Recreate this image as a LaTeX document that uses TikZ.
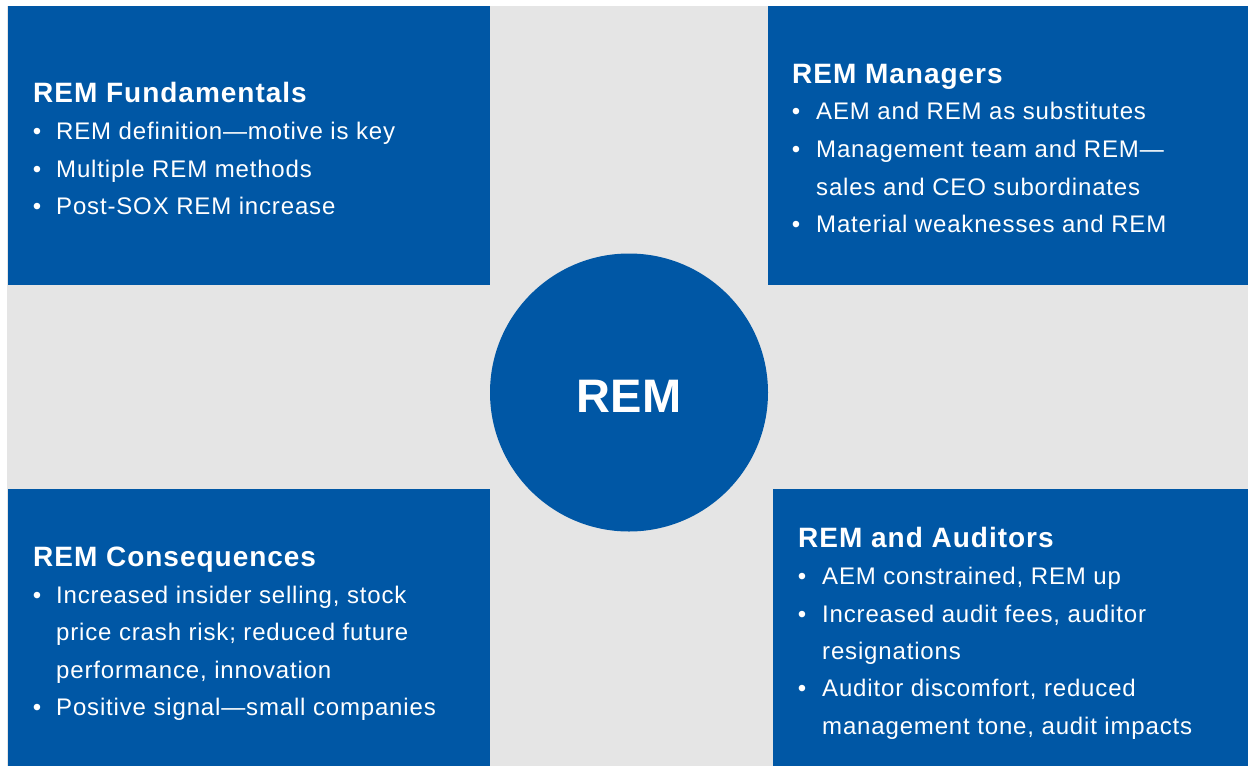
\documentclass[tikz,border=0pt]{standalone}
\usepackage{fontspec}
\setmainfont{Liberation Sans}[LetterSpace=3.5]
\newfontfamily\remfont{Liberation Sans}
\definecolor{remblue}{RGB}{0,87,165}
\definecolor{remgray}{RGB}{229,229,229}
\tikzset{
  panel/.style={fill=remblue, draw=none},
  heading/.style={text=white, font=\bfseries\fontsize{28}{30}\selectfont, anchor=base west, inner sep=0pt},
  item/.style={text=white, font=\fontsize{24}{26}\selectfont, anchor=base west, inner sep=0pt},
  dot/.style={text=white, font=\fontsize{24}{26}\selectfont, anchor=base, inner sep=0pt},
  hub/.style={circle, fill=remblue, minimum size=278pt, inner sep=0pt, text=white, font=\remfont\bfseries\fontsize{47}{50}\selectfont},
}
\begin{document}
\begin{tikzpicture}[x=1pt,y=-1pt]
\useasboundingbox (0,0) rectangle (1248,766);
\fill[white] (0,0) rectangle (1248,766);
\fill[remgray] (7,6) rectangle (1248,766);
% panels
\fill[panel] (8,6) rectangle (490,285);
\fill[panel] (768,6) rectangle (1248,285);
\fill[panel] (8,489) rectangle (490,766);
\fill[panel] (773,489) rectangle (1248,766);
% centre
\node[hub] (rem) at (629,392.5) {\raisebox{-3.5pt}[\height][\depth]{REM}};
% top left
\node[heading] (ft) at (33,102) {REM Fundamentals};
\node[dot] (fb1) at (37,139) {•};
\node[item] (f1) at (56,139) {REM definition—motive is key};
\node[dot] (fb2) at (37,177) {•};
\node[item] (f2) at (56,177) {Multiple REM methods};
\node[dot] (fb3) at (37,214) {•};
\node[item] (f3) at (56,214) {Post-SOX REM increase};
% top right
\node[heading] (mt) at (792,83) {REM Managers};
\node[dot] (mb1) at (796,119.5) {•};
\node[item] (m1) at (816,119.5) {AEM and REM as substitutes};
\node[dot] (mb2) at (796,157) {•};
\node[item] (m2) at (816,157) {Management team and REM—};
\node[item] (m2b) at (816,195) {sales and CEO subordinates};
\node[dot] (mb3) at (796,232) {•};
\node[item] (m3) at (816,232) {Material weaknesses and REM};
% bottom left
\node[heading] (ct) at (33,566) {REM Consequences};
\node[dot] (cb1) at (37,603) {•};
\node[item] (c1) at (56,603) {Increased insider selling, stock};
\node[item] (c1b) at (56,640) {price crash risk; reduced future};
\node[item] (c1c) at (56,678) {performance, innovation};
\node[dot] (cb2) at (37,715) {•};
\node[item] (c2) at (56,715) {Positive signal—small companies};
% bottom right
\node[heading] (at) at (798,547) {REM and Auditors};
\node[dot] (ab1) at (802,584) {•};
\node[item] (a1) at (822,584) {AEM constrained, REM up};
\node[dot] (ab2) at (802,622) {•};
\node[item] (a2) at (822,622) {Increased audit fees, auditor};
\node[item] (a2b) at (822,659) {resignations};
\node[dot] (ab3) at (802,696) {•};
\node[item] (a3) at (822,696) {Auditor discomfort, reduced};
\node[item] (a3b) at (822,734) {management tone, audit impacts};
\end{tikzpicture}
\end{document}
